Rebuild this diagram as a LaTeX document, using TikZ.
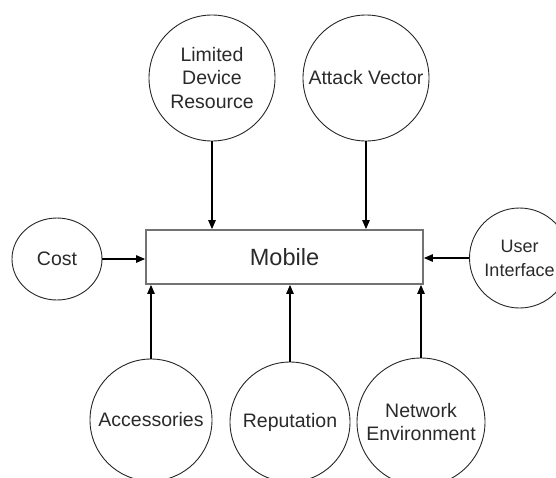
\documentclass[tikz,border=0pt]{standalone}
\usepackage{fontspec}
\setmainfont{Liberation Sans}
\usetikzlibrary{arrows.meta,shapes.geometric}
\definecolor{txt}{HTML}{2A2A2A}
\begin{document}
\begin{tikzpicture}[x=1pt,y=-1pt,
  factor/.style={circle,draw=black!85,line width=0.9pt,inner sep=0pt,align=center,
    text=txt,font=\fontsize{19.5}{23.5}\selectfont},
  box/.style={rectangle,draw=black!55,line width=1.8pt,inner sep=0pt,
    minimum width=277pt,minimum height=54pt,text=txt,font=\fontsize{23.5}{27}\selectfont},
  arr/.style={draw=black,line width=1.1pt,-{Triangle[length=9pt,width=7.5pt]}}]
\useasboundingbox (0,0) rectangle (556,477);
\clip (0,0) rectangle (556,477);
\node[box] (mob) at (284.5,257) {Mobile};
\node[factor,minimum size=126pt] (ldr) at (212,78) {Limited\\Device\\Resource};
\node[factor,minimum size=126pt] (av) at (366,78) {Attack Vector};
\node[ellipse,draw=black!85,line width=0.9pt,inner sep=0pt,minimum width=90pt,minimum height=82pt,
  text=txt,font=\fontsize{19.5}{23.5}\selectfont] (cost) at (57,259) {Cost};
\node[factor,minimum size=100pt,font=\fontsize{18}{24}\selectfont] (ui) at (519.5,258) {User\\Interface};
\node[factor,minimum size=122pt] (acc) at (151,420) {Accessories};
\node[factor,minimum size=120pt] (rep) at (290,422) {Reputation};
\node[factor,minimum size=128pt] (net) at (421,422) {Network\\Environment};
\draw[arr] (ldr) -- (ldr |- mob.north);
\draw[arr] (av) -- (av |- mob.north);
\draw[arr] (cost) -- (cost -| mob.west);
\draw[arr] (ui) -- (ui -| mob.east);
\draw[arr] (acc) -- (acc |- mob.south);
\draw[arr] (rep) -- (rep |- mob.south);
\draw[arr] (net) -- (net |- mob.south);
\end{tikzpicture}
\end{document}
